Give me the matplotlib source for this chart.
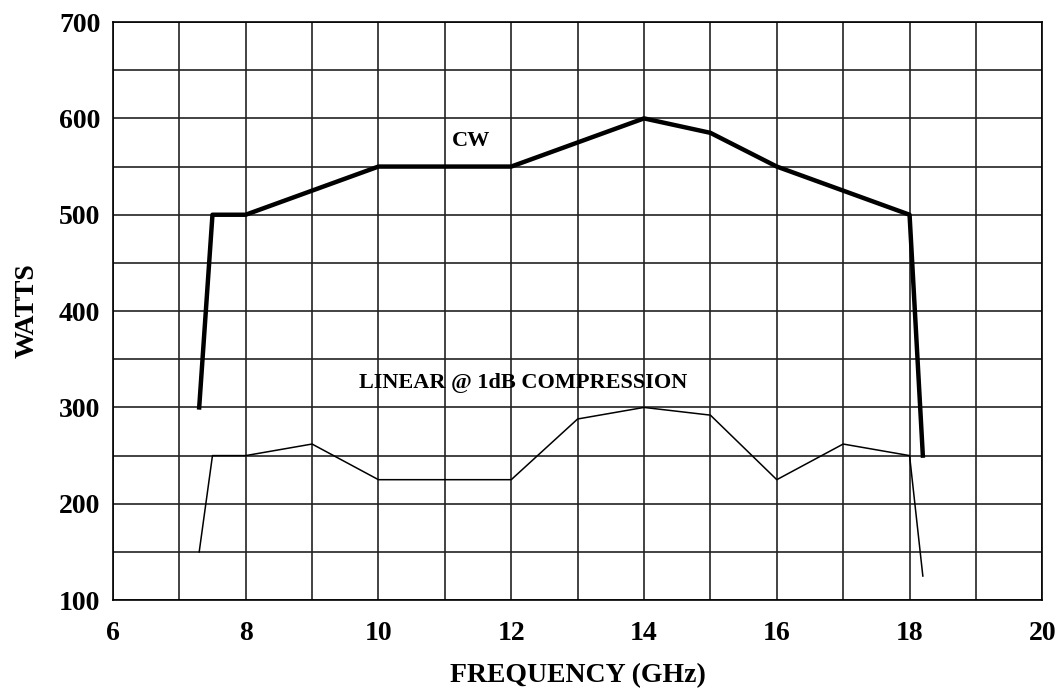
import matplotlib
matplotlib.use('Agg')
import matplotlib.pyplot as plt

#Dati
freq_cw = [7.3, 7.5, 8, 10, 12, 14, 15, 16, 17, 18, 18.2]
watt_cw = [300, 500, 500, 550, 550, 600, 585, 550, 525, 500, 250]
freq_lin = [7.3, 7.5, 8, 9, 10, 12, 13, 14, 15, 16, 17, 18, 18.2]
watt_lin = [150, 250, 250, 262, 225, 225, 288, 300, 292, 225, 262, 250, 125]
x_ticks = [6, 8, 10, 12, 14, 16, 18, 20]
y_ticks = [100, 200, 300, 400, 500, 600, 700]

plt.rcParams['font.family'] = ['Liberation Serif', 'DejaVu Serif']
plt.rcParams['font.weight'] = 'bold'

fig = plt.figure(figsize=(10.55, 6.89), dpi=100)
ax = fig.add_axes([0.107, 0.129, 0.881, 0.839])

ax.plot(freq_cw, watt_cw, color='black', linewidth=3.2)
ax.plot(freq_lin, watt_lin, color='black', linewidth=1.1)

ax.set_xlim(6, 20)
ax.set_ylim(100, 700)
ax.set_xticks(x_ticks)
ax.set_yticks(y_ticks)
ax.set_xticks(range(6, 21), minor=True)
ax.set_yticks(range(100, 701, 50), minor=True)
ax.grid(which='both', color='#222222', linewidth=1.2)
ax.tick_params(which='both', length=0, labelsize=20)
ax.tick_params(axis='x', pad=15)
ax.tick_params(axis='y', pad=9)
for s in ax.spines.values():
    s.set_linewidth(1.2)

ax.set_xlabel('FREQUENCY (GHz)', fontsize=20, fontweight='bold', labelpad=12)
ax.set_ylabel('WATTS', fontsize=20, fontweight='bold', labelpad=14)

ax.text(11.4, 577, 'CW', fontsize=16, fontweight='bold', ha='center', va='center')
ax.text(12.18, 325, 'LINEAR @ 1dB COMPRESSION', fontsize=16, fontweight='bold',
        ha='center', va='center')

fig.savefig('out.png', dpi=100)
